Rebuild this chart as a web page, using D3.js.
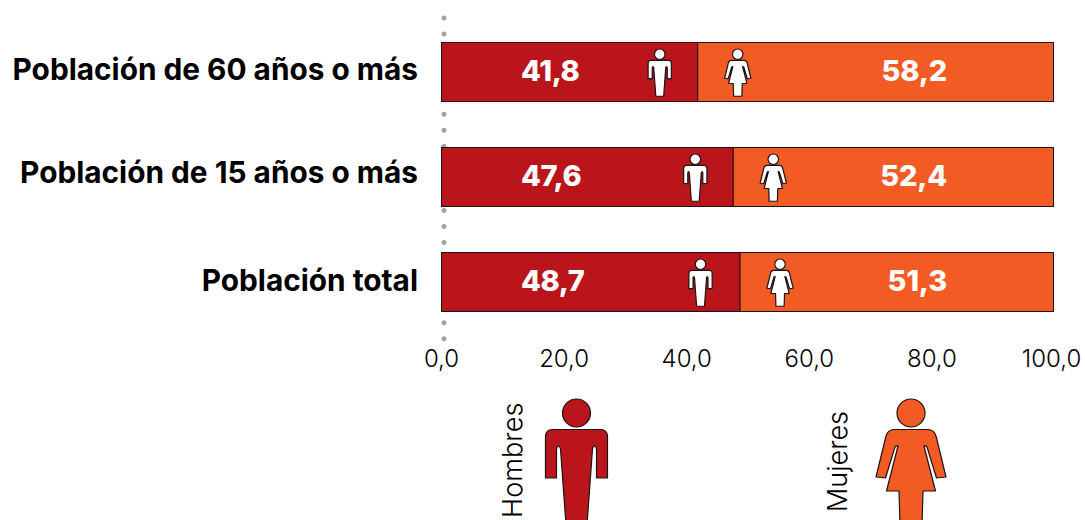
<!DOCTYPE html>
<html lang="es">
<head>
<meta charset="utf-8">
<script src="https://cdn.jsdelivr.net/npm/d3@7"></script>
<style>
  html, body { margin: 0; padding: 0; background: #fff; }
  svg { display: block; font-family: Inter, Lato, sans-serif; }
</style>
</head>
<body>
<svg id="chart" width="1085" height="520"></svg>
<script>
// Population share by sex, in percent
const categories = ["Población de 60 años o más", "Población de 15 años o más", "Población total"];
const hombres = [41.8, 47.6, 48.7];
const mujeres = [58.2, 52.4, 51.3];
const axisTicks = [0, 20, 40, 60, 80, 100];
const legendLabels = ["Hombres", "Mujeres"];

// Baseline of each row label, measured from the top of its bar
const labelBaseline = [37.5, 35.5, 39];
// Distance of the man icon to the left of the split between the two segments
const manIconGap = [37.5, 37.5, 39];

const colorHombres = "#b9151b";
const colorMujeres = "#f35b24";
const outline = "#1c1414";

const es = d3.formatLocale({ decimal: ",", thousands: ".", grouping: [3], currency: ["", " €"] });
const fmt = es.format(".1f");

const svg = d3.select("#chart");
const x = d3.scaleLinear().domain([0, 100]).range([441, 1054]);
const y = d3.scaleBand().domain(categories).range([42, 312]).paddingInner(45 / 105);

// Pictogram outlines, head top at (0,0), in legend-size units
const HEAD_R = 14;
const manBody = "M-24,30.5 L24,30.5 Q31,30.5 31,38 L31,79 L20,79 L20,50 Q19,47 18.5,47 Q16.5,47 16,50 L10.5,126 L-10.5,126 L-16,50 Q-16.5,47 -18.5,47 Q-19,47 -20,50 L-20,79 L-31,79 L-31,38 Q-31,30.5 -24,30.5 Z";
const womanBody = "M-17,30.5 L17,30.5 Q23,30.5 25,37 L35,78 L25.5,79 L16,48 Q15,46.5 13,47 L24.5,92 L12,92 L11,126 L-11,126 L-12,92 L-24.5,92 L-13,47 Q-15,46.5 -16,48 L-25.5,79 L-35,78 L-25,37 Q-23,30.5 -17,30.5 Z";

function pictogram(parent, bodyPath, cx, top, scale, fill, strokeWidth) {
  const g = parent.append("g").attr("transform", `translate(${cx},${top}) scale(${scale})`);
  g.append("circle").attr("cx", 0).attr("cy", HEAD_R).attr("r", HEAD_R)
    .attr("fill", fill).attr("stroke", outline).attr("stroke-width", strokeWidth / scale);
  g.append("path").attr("d", bodyPath)
    .attr("fill", fill).attr("stroke", outline).attr("stroke-width", strokeWidth / scale)
    .attr("stroke-linejoin", "round");
}

// Dotted baseline running behind the bars
svg.append("line")
  .attr("x1", 444).attr("x2", 444).attr("y1", 18).attr("y2", 341)
  .attr("stroke", "#a3a3a3").attr("stroke-width", 5)
  .attr("stroke-linecap", "round").attr("stroke-dasharray", "0 16.04");

const rows = svg.append("g").selectAll("g").data(categories).join("g")
  .attr("transform", d => `translate(0,${y(d)})`);

rows.append("rect")
  .attr("x", x(0) + 0.5).attr("y", 0.5)
  .attr("width", (d, i) => x(hombres[i]) - x(0))
  .attr("height", y.bandwidth() - 1)
  .attr("fill", colorHombres).attr("stroke", outline).attr("stroke-width", 1);

rows.append("rect")
  .attr("x", (d, i) => x(hombres[i]) + 0.5).attr("y", 0.5)
  .attr("width", (d, i) => x(100) - x(hombres[i]) - 1)
  .attr("height", y.bandwidth() - 1)
  .attr("fill", colorMujeres).attr("stroke", outline).attr("stroke-width", 1);

rows.append("text")
  .attr("x", 418).attr("y", (d, i) => labelBaseline[i])
  .attr("text-anchor", "end")
  .attr("font-size", 29.8).attr("font-weight", 700).attr("fill", "#000")
  .text(d => d);

rows.append("text")
  .attr("x", 521).attr("y", 39)
  .attr("font-size", 29).attr("font-weight", 800).attr("letter-spacing", -0.4).attr("fill", "#fff")
  .text((d, i) => fmt(hombres[i]));

rows.append("text")
  .attr("x", 947).attr("y", 39)
  .attr("text-anchor", "end")
  .attr("font-size", 29).attr("font-weight", 800).attr("letter-spacing", -0.2).attr("fill", "#fff")
  .text((d, i) => fmt(mujeres[i]));

rows.each(function (d, i) {
  const row = d3.select(this);
  const split = x(hombres[i]);
  pictogram(row, manBody, split - manIconGap[i], 7, 0.375, "#fff", 1.2);
  pictogram(row, womanBody, split + 40.5, 7, 0.375, "#fff", 1.2);
});

// Bottom axis with comma decimals
const axis = d3.axisBottom(x).tickValues(axisTicks).tickSize(0).tickPadding(0).tickFormat(fmt);
const axisG = svg.append("g").attr("transform", "translate(0,350)").call(axis);
axisG.select(".domain").remove();
axisG.selectAll("text")
  .attr("font-family", "Inter, sans-serif").attr("font-size", 24).attr("font-weight", 300).attr("fill", "#000")
  .attr("dy", "0.71em");
axisG.selectAll(".tick:last-child text").attr("dx", -3);

// Legend pictograms with rotated labels
pictogram(svg, manBody, 576.5, 399, 1, colorHombres, 1.2);
pictogram(svg, womanBody, 911, 399, 1, colorMujeres, 1.2);

svg.append("text").attr("transform", "translate(522,518) rotate(-90)")
  .attr("font-size", 27.2).attr("font-weight", 300).attr("fill", "#000").text(legendLabels[0]);
svg.append("text").attr("transform", "translate(847,512) rotate(-90)")
  .attr("font-size", 27).attr("font-weight", 300).attr("fill", "#000").text(legendLabels[1]);
</script>
</body>
</html>
